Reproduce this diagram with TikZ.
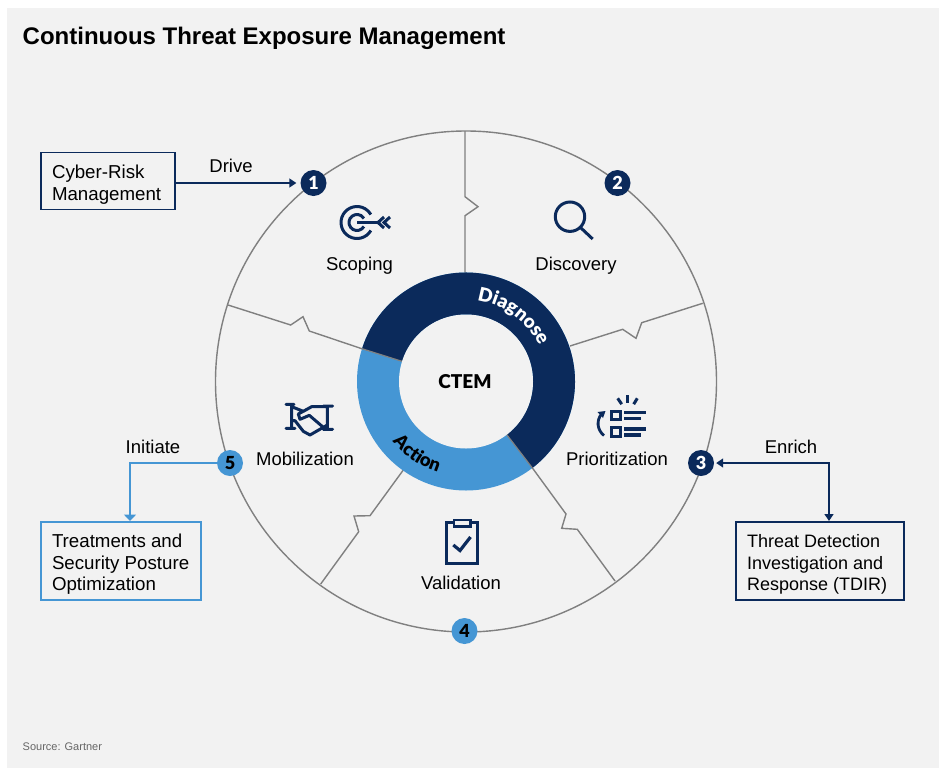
\documentclass[tikz,border=0pt]{standalone}
\usepackage{fontspec}
\setmainfont{Liberation Sans}
\newfontfamily\heavyfont{Lato Black}
\usetikzlibrary{arrows.meta,decorations.text}
\definecolor{navy}{HTML}{0B2A5B}
\definecolor{skyb}{HTML}{4596D4}
\definecolor{panel}{HTML}{F2F2F2}
\definecolor{divgray}{HTML}{808080}
\tikzset{
  lbl/.style={font=\fontsize{18.5}{21}\selectfont, text=black, inner sep=0pt, anchor=base},
  boxnavy/.style={draw=navy, line width=1.2pt, fill=panel, minimum height=57pt, align=left, text=black, font=\fontsize{18.7}{21.5}\selectfont, inner sep=0pt},
  boxsky/.style={draw=skyb, line width=1.3pt, fill=panel, align=left, text=black, font=\fontsize{18.7}{21.5}\selectfont, inner sep=0pt},
  badgenavy/.style={circle, fill=navy, minimum size=26pt, inner sep=0pt, text=white, font=\heavyfont\fontsize{18}{18}\selectfont},
  badgesky/.style={circle, fill=skyb, minimum size=26pt, inner sep=0pt, text=black, font=\heavyfont\fontsize{18}{18}\selectfont},
  divider/.style={draw=divgray, line width=1.4pt, line join=miter},
  iconline/.style={draw=navy, line width=3pt},
  connavy/.style={draw=navy, line width=1.4pt},
  consky/.style={draw=skyb, line width=1.6pt},
  tipnavy/.style={-{Triangle[length=7pt,width=9pt]}},
}
\begin{document}
\begin{tikzpicture}[x=1pt,y=-1pt]
\useasboundingbox (0,0) rectangle (946,772);
\fill[white] (0,0) rectangle (946,772);
\fill[panel] (7,8) rectangle (938.5,768);
\node[anchor=base west, inner sep=0pt, font=\bfseries\fontsize{24}{28}\selectfont] (title) at (22.5,44.5) {Continuous Threat Exposure Management};
\node[anchor=base west, inner sep=0pt, text=black!60, font=\fontsize{11}{13}\selectfont] (source) at (22.5,750.5) {Source: Gartner};

% outer circle
\draw[divgray, line width=1.4pt] (466,381.5) circle (250.5);

% dividers
\draw[divider] (465,131) -- (465,196.7) -- (478,206.7) -- (465,215.7) -- (465,274);
\draw[divider] (702.7,303.3) -- (641.7,322.7) -- (636,338.3) -- (622.7,329.3) -- (570,346);
\draw[divider] (615,581) -- (577.3,529.3) -- (561.7,528.3) -- (566,514) -- (531.7,467);
\draw[divider] (320.7,584) -- (358.7,531.7) -- (354,516) -- (370,515.7) -- (403.3,470);
\draw[divider] (228,305) -- (290.7,325) -- (303,316.7) -- (309.3,331) -- (362.7,349);

% ring
\begin{scope}[shift={(466,381.5)},x=1pt,y=1pt]
  \fill[skyb] circle (109);
  \fill[navy] (162.5:109) arc (162.5:-52.5:109) -- (-52.5:67) arc (-52.5:162.5:67) -- cycle;
  \draw[divgray, line width=1.2pt] (162.5:109) -- (162.5:67);
  \draw[divgray, line width=1.2pt] (-52.5:109) -- (-52.5:67);
  \fill[panel] circle (67);
  \path[decorate, decoration={text along path, text align=center,
     text={|\heavyfont\fontsize{19}{19}\selectfont\color{white}|Diagnose}}]
     (88:81.5) arc (88:20:81.5);
  \path[decorate, decoration={text along path, text align=center,
     text={|\heavyfont\fontsize{18.5}{18.5}\selectfont\color{black}|Action}}]
     (206:95) arc (206:266:95);
\end{scope}
\node[anchor=base, font=\heavyfont\fontsize{19}{19}\selectfont, inner sep=0pt] (ctem) at (465,388.3) {CTEM};

% section labels
\node[lbl] (scoping) at (359.5,270) {Scoping};
\node[lbl] (discovery) at (576,270) {Discovery};
\node[lbl] (prior) at (617,465) {Prioritization};
\node[lbl] (mobil) at (305,465) {Mobilization};
\node[lbl] (valid) at (461,589.5) {Validation};

% scoping icon
\draw[iconline] (357,222.5) ++(30:16) arc (30:330:16);
\draw[iconline] (357,222.5) ++(30:8) arc (30:330:8);
\draw[iconline] (357,222.5) -- (380,222.5);
\draw[iconline, line join=miter] (384,217) -- (378,222.5) -- (384,228);
\draw[iconline, line join=miter] (390,217) -- (384,222.5) -- (390,228);

% discovery icon
\draw[iconline] (570,216.7) circle (14.7);
\draw[iconline] (581,228) -- (592.7,239);

% prioritization icon
\draw[iconline] (627.7,395) -- (627.7,402.7);
\draw[iconline] (617.7,398.3) -- (621.7,404.2);
\draw[iconline] (637.3,398.3) -- (633.7,404.2);
\draw[iconline] (611.5,411) rectangle (620,419.5);
\draw[iconline] (611.5,427.5) rectangle (620,436.5);
\draw[navy, line width=3.4pt] (624,412.7) -- (646,412.7);
\draw[navy, line width=3.4pt] (624,418.5) -- (640.7,418.5);
\draw[navy, line width=3.4pt] (624,429) -- (646,429);
\draw[navy, line width=3.4pt] (624,435) -- (640.7,435);
\draw[navy, line width=2.8pt] (604,435.5) .. controls (597,430) and (596,420) .. (602,413.5);
\fill[navy] (605.5,411) -- (597.5,412) -- (603,418) -- cycle;

% mobilization icon
\begin{scope}[shift={(270,390)},x=0.3333pt,y=-0.3333pt]
  \draw[navy, line width=3pt, line join=round, line cap=round]
    (48,43) -- (72,43) (65,43) -- (65,115) (48,115) -- (75,115)
    (160,48) -- (188,48) (172,48) -- (172,118) (160,118) -- (188,118)
    (65,50) -- (100,64) -- (125,50) -- (172,50)
    (125,50) -- (85,72) -- (90,88) -- (118,76) -- (160,112)
    (65,92) -- (75,92) -- (100,124) -- (120,135) -- (172,105);
\end{scope}

% validation icon
\draw[navy, line width=3.2pt] (446.7,522.7) rectangle (477.3,563.3);
\draw[navy, line width=2.8pt, fill=panel] (454,520) rectangle (470.5,526.7);
\draw[navy, line width=3.2pt] (453.3,545) -- (460,550.5) -- (470.5,537);

% boxes
\node[boxnavy, minimum width=134pt] (cyber) at (108,181) {\hspace*{11pt}\parbox{123pt}{\vspace*{7pt}Cyber-Risk\\Management}};
\node[boxnavy, minimum width=168pt, minimum height=78pt, font=\fontsize{18}{21.5}\selectfont] (tdir) at (820,561) {\hspace*{11pt}\parbox{157pt}{\vspace*{7pt}Threat Detection\\Investigation and\\Response (TDIR)}};
\node[boxsky, minimum width=160pt, minimum height=78pt] (treat) at (121,561) {\hspace*{11pt}\parbox{149pt}{\vspace*{7pt}Treatments and\\Security Posture\\Optimization}};

% badges
\node[badgenavy] (b1) at (313.5,183) {1};
\node[badgenavy] (b2) at (617.5,183) {2};
\node[badgenavy] (b3) at (701,463) {3};
\node[badgesky] (b4) at (464.5,631) {4};
\node[badgesky] (b5) at (230,463) {5};

% connectors
\coordinate (c1) at (cyber.east |- b1);
\coordinate (c3) at (829,522);
\coordinate (c5) at (130,521);
\draw[connavy, tipnavy, shorten >=4pt] (c1) -- (b1);
\draw[connavy, {Triangle[length=7pt,width=9pt]}-{Triangle[length=7pt,width=9pt]}, shorten <=2pt, shorten >=1pt] (b3.east) -- (c3 |- b3) -- (c3);
\draw[consky, -{Triangle[length=6.5pt,width=12pt]}] (b5.west) -- (c5 |- b5) -- (c5);

\node[lbl] (drive) at (231,172) {Drive};
\node[lbl] (enrich) at (791,453) {Enrich};
\node[lbl] (init) at (153,453) {Initiate};
\end{tikzpicture}
\end{document}
